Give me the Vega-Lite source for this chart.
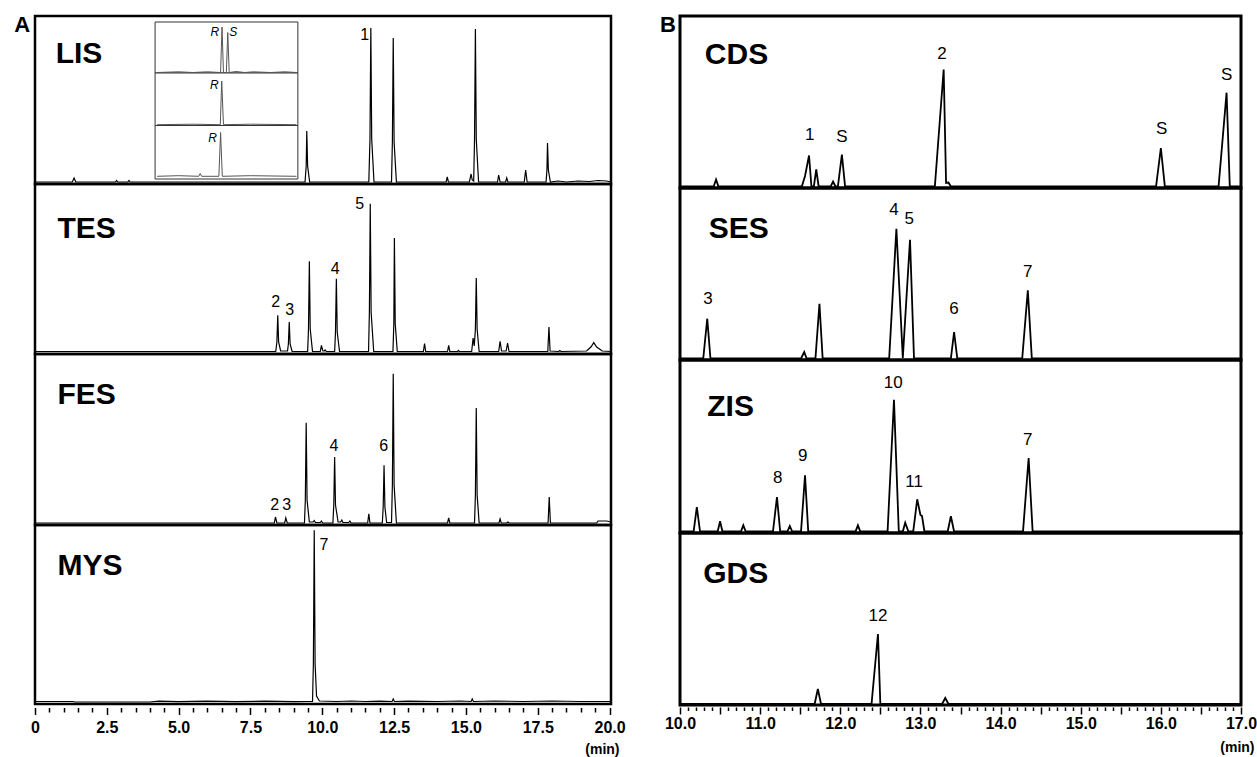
{
"$schema": "https://vega.github.io/schema/vega-lite/v6.json",
"background": "white",
"padding": {"left": 12, "top": 12, "right": 0, "bottom": 0},
"config": {"font": "Liberation Sans", "view": {"stroke": "black"}},
"datasets": {
"LIS": [{"t":0,"v":2},{"t":1.30,"v":2},{"t":1.36,"v":6},{"t":1.42,"v":2},{"t":2.80,"v":2},{"t":2.84,"v":3.5},{"t":2.88,"v":2},{"t":3.23,"v":2},{"t":3.27,"v":3.5},{"t":3.31,"v":2},{"t":9.40,"v":2},{"t":9.44,"v":18},{"t":9.46,"v":53},{"t":9.49,"v":18},{"t":9.56,"v":2},{"t":11.62,"v":2},{"t":11.66,"v":45},{"t":11.69,"v":156},{"t":11.72,"v":45},{"t":11.80,"v":2},{"t":12.41,"v":2},{"t":12.44,"v":42},{"t":12.47,"v":146},{"t":12.50,"v":42},{"t":12.58,"v":2},{"t":14.31,"v":2},{"t":14.35,"v":7},{"t":14.39,"v":2},{"t":15.12,"v":2},{"t":15.18,"v":10},{"t":15.22,"v":4},{"t":15.27,"v":3},{"t":15.30,"v":45},{"t":15.33,"v":155},{"t":15.36,"v":45},{"t":15.44,"v":2},{"t":16.10,"v":2},{"t":16.14,"v":9},{"t":16.19,"v":2},{"t":16.38,"v":2},{"t":16.42,"v":6},{"t":16.46,"v":2},{"t":17.03,"v":2},{"t":17.08,"v":14},{"t":17.13,"v":2},{"t":17.79,"v":2},{"t":17.82,"v":14},{"t":17.84,"v":41},{"t":17.87,"v":14},{"t":17.94,"v":2},{"t":18.2,"v":3},{"t":18.5,"v":2},{"t":18.9,"v":3},{"t":19.3,"v":2.5},{"t":19.6,"v":3.5},{"t":19.9,"v":3},{"t":20.05,"v":2}],
"LISin": [{"g":1,"t":4.25,"v":111.5},{"g":1,"t":5.0,"v":112.2},{"g":1,"t":5.5,"v":111.5},{"g":1,"t":6.0,"v":112.2},{"g":1,"t":6.46,"v":111.5},{"g":1,"t":6.51,"v":157},{"g":1,"t":6.56,"v":111.5},{"g":1,"t":6.66,"v":111.5},{"g":1,"t":6.71,"v":151.5},{"g":1,"t":6.76,"v":111.5},{"g":1,"t":7.0,"v":112.5},{"g":1,"t":7.3,"v":111.5},{"g":1,"t":7.6,"v":112.2},{"g":1,"t":8.2,"v":111.5},{"g":1,"t":8.7,"v":112.2},{"g":1,"t":9.1,"v":111.5},
{"g":2,"t":4.25,"v":59.3},{"g":2,"t":5.5,"v":59.8},{"g":2,"t":6.45,"v":59.3},{"g":2,"t":6.50,"v":103},{"g":2,"t":6.56,"v":59.3},{"g":2,"t":7.5,"v":59.8},{"g":2,"t":9.1,"v":59.3},
{"g":3,"t":4.25,"v":7.7},{"g":3,"t":5.0,"v":8.3},{"g":3,"t":5.7,"v":7.7},{"g":3,"t":5.75,"v":10.5},{"g":3,"t":5.8,"v":7.7},{"g":3,"t":6.40,"v":7.7},{"g":3,"t":6.46,"v":51.5},{"g":3,"t":6.52,"v":7.7},{"g":3,"t":7.5,"v":8.3},{"g":3,"t":9.1,"v":7.7}],
"box": [{"t":4.18,"t2":9.15,"v":111,"v2":162},{"t":4.18,"t2":9.15,"v":58.5,"v2":111},{"t":4.18,"t2":9.15,"v":5,"v2":58.5}],
"TES": [{"t":0,"v":2.5},{"t":1.3,"v":2.5},{"t":4,"v":2.5},{"t":8.38,"v":2.5},{"t":8.42,"v":12},{"t":8.45,"v":38.7},{"t":8.48,"v":12},{"t":8.55,"v":3},{"t":8.79,"v":3},{"t":8.82,"v":10},{"t":8.85,"v":32},{"t":8.88,"v":10},{"t":8.95,"v":2.5},{"t":9.49,"v":2.5},{"t":9.52,"v":25},{"t":9.55,"v":92.7},{"t":9.58,"v":25},{"t":9.66,"v":2.5},{"t":9.93,"v":2.5},{"t":9.97,"v":8.7},{"t":10.02,"v":3},{"t":10.07,"v":3},{"t":10.10,"v":4},{"t":10.14,"v":2.5},{"t":10.43,"v":2.5},{"t":10.46,"v":22},{"t":10.49,"v":75.3},{"t":10.52,"v":22},{"t":10.60,"v":2.5},{"t":11.61,"v":2.5},{"t":11.64,"v":42},{"t":11.67,"v":150.3},{"t":11.70,"v":42},{"t":11.79,"v":2.5},{"t":12.46,"v":2.5},{"t":12.49,"v":30},{"t":12.51,"v":116},{"t":12.54,"v":30},{"t":12.61,"v":2.5},{"t":13.52,"v":2.5},{"t":13.56,"v":10.3},{"t":13.60,"v":2.5},{"t":14.36,"v":2.5},{"t":14.40,"v":8.7},{"t":14.44,"v":2.5},{"t":14.71,"v":2.5},{"t":14.74,"v":3.5},{"t":14.77,"v":2.5},{"t":15.20,"v":2.5},{"t":15.25,"v":16},{"t":15.29,"v":8},{"t":15.33,"v":25},{"t":15.36,"v":76},{"t":15.39,"v":25},{"t":15.46,"v":2.5},{"t":16.14,"v":2.5},{"t":16.19,"v":12.7},{"t":16.24,"v":3},{"t":16.40,"v":3},{"t":16.45,"v":11},{"t":16.50,"v":2.5},{"t":17.85,"v":2.5},{"t":17.89,"v":27},{"t":17.93,"v":3},{"t":18.23,"v":2.5},{"t":18.27,"v":3.5},{"t":18.31,"v":2.5},{"t":19.2,"v":3},{"t":19.35,"v":7},{"t":19.45,"v":11.3},{"t":19.55,"v":7},{"t":19.75,"v":3},{"t":20.05,"v":2.5}],
"FES": [{"t":0,"v":2},{"t":8.33,"v":2},{"t":8.37,"v":8},{"t":8.42,"v":2},{"t":8.69,"v":2},{"t":8.73,"v":7},{"t":8.78,"v":2},{"t":9.38,"v":2},{"t":9.41,"v":25},{"t":9.44,"v":102.3},{"t":9.47,"v":25},{"t":9.55,"v":3},{"t":9.68,"v":3},{"t":9.72,"v":4.5},{"t":9.76,"v":2.5},{"t":9.93,"v":2.5},{"t":9.97,"v":4},{"t":10.01,"v":2},{"t":10.37,"v":2},{"t":10.40,"v":20},{"t":10.43,"v":68},{"t":10.46,"v":20},{"t":10.55,"v":3},{"t":10.64,"v":3},{"t":10.68,"v":5},{"t":10.72,"v":2.5},{"t":10.92,"v":2.5},{"t":10.96,"v":4},{"t":11.00,"v":2},{"t":11.58,"v":2},{"t":11.62,"v":11.3},{"t":11.66,"v":2},{"t":12.09,"v":2},{"t":12.12,"v":18},{"t":12.15,"v":59.7},{"t":12.18,"v":18},{"t":12.24,"v":2.5},{"t":12.41,"v":2.5},{"t":12.44,"v":40},{"t":12.47,"v":151.3},{"t":12.50,"v":40},{"t":12.58,"v":2},{"t":14.36,"v":2},{"t":14.40,"v":7},{"t":14.44,"v":2},{"t":15.30,"v":2},{"t":15.33,"v":30},{"t":15.36,"v":117},{"t":15.39,"v":30},{"t":15.46,"v":2},{"t":16.15,"v":2},{"t":16.19,"v":6},{"t":16.23,"v":2},{"t":16.42,"v":2},{"t":16.46,"v":3},{"t":16.50,"v":2},{"t":17.86,"v":2},{"t":17.90,"v":28},{"t":17.94,"v":2},{"t":19.55,"v":2},{"t":19.6,"v":4},{"t":19.9,"v":4},{"t":20.05,"v":3}],
"MYS": [{"t":0,"v":2.5},{"t":1.3,"v":2.5},{"t":1.4,"v":2},{"t":4.0,"v":2},{"t":4.3,"v":2.8},{"t":5,"v":2.3},{"t":6,"v":2.8},{"t":7,"v":2.3},{"t":8,"v":2.8},{"t":9.0,"v":2.3},{"t":9.5,"v":2.5},{"t":9.66,"v":2.5},{"t":9.69,"v":40},{"t":9.72,"v":173.7},{"t":9.75,"v":40},{"t":9.80,"v":8},{"t":9.90,"v":3},{"t":10.5,"v":2.5},{"t":11,"v":3},{"t":11.5,"v":2.5},{"t":12.0,"v":2.8},{"t":12.43,"v":2.5},{"t":12.47,"v":5},{"t":12.51,"v":2.5},{"t":13,"v":2.8},{"t":14,"v":2.5},{"t":14.8,"v":3},{"t":15.18,"v":2.5},{"t":15.22,"v":5},{"t":15.26,"v":2.5},{"t":16,"v":3},{"t":17,"v":2.5},{"t":18,"v":3},{"t":19,"v":2.5},{"t":20.05,"v":2.5}],
"CDS": [{"t":10.0,"v":1.5},{"t":10.42,"v":1.5},{"t":10.45,"v":8.5},{"t":10.48,"v":1.5},{"t":11.52,"v":1.5},{"t":11.56,"v":12},{"t":11.61,"v":32.5},{"t":11.64,"v":1.5},{"t":11.67,"v":1.5},{"t":11.70,"v":18.5},{"t":11.73,"v":1.5},{"t":11.88,"v":1.5},{"t":11.91,"v":6.5},{"t":11.94,"v":1.5},{"t":11.97,"v":1.5},{"t":12.02,"v":33.5},{"t":12.06,"v":1.5},{"t":13.18,"v":1.5},{"t":13.29,"v":118.5},{"t":13.32,"v":5},{"t":13.35,"v":5.5},{"t":13.38,"v":1.5},{"t":15.94,"v":1.5},{"t":16.00,"v":40},{"t":16.05,"v":1.5},{"t":16.72,"v":1.5},{"t":16.82,"v":95.3},{"t":16.86,"v":1.5},{"t":17.0,"v":1.5}],
"SES": [{"t":10.0,"v":1.5},{"t":10.29,"v":1.5},{"t":10.34,"v":41.3},{"t":10.38,"v":1.5},{"t":11.51,"v":1.5},{"t":11.55,"v":8},{"t":11.58,"v":1.5},{"t":11.69,"v":1.5},{"t":11.74,"v":56.3},{"t":11.78,"v":1.5},{"t":12.61,"v":1.5},{"t":12.70,"v":131.3},{"t":12.78,"v":2},{"t":12.87,"v":120.3},{"t":12.92,"v":1.5},{"t":13.38,"v":1.5},{"t":13.42,"v":28},{"t":13.46,"v":1.5},{"t":14.27,"v":1.5},{"t":14.34,"v":69.7},{"t":14.39,"v":1.5},{"t":17.0,"v":1.5}],
"ZIS": [{"t":10.0,"v":1.5},{"t":10.17,"v":1.5},{"t":10.21,"v":26},{"t":10.25,"v":1.5},{"t":10.47,"v":1.5},{"t":10.50,"v":11.7},{"t":10.53,"v":1.5},{"t":10.76,"v":1.5},{"t":10.79,"v":7.7},{"t":10.82,"v":1.5},{"t":11.16,"v":1.5},{"t":11.21,"v":36},{"t":11.25,"v":1.5},{"t":11.34,"v":1.5},{"t":11.37,"v":7},{"t":11.40,"v":1.5},{"t":11.51,"v":1.5},{"t":11.56,"v":57.7},{"t":11.60,"v":1.5},{"t":12.19,"v":1.5},{"t":12.22,"v":7.7},{"t":12.25,"v":1.5},{"t":12.59,"v":1.5},{"t":12.67,"v":133.3},{"t":12.73,"v":1.5},{"t":12.78,"v":1.5},{"t":12.81,"v":10.3},{"t":12.85,"v":1.5},{"t":12.91,"v":1.5},{"t":12.96,"v":33.7},{"t":13.00,"v":18},{"t":13.02,"v":17},{"t":13.05,"v":1.5},{"t":13.34,"v":1.5},{"t":13.38,"v":16.7},{"t":13.42,"v":1.5},{"t":14.28,"v":1.5},{"t":14.35,"v":75},{"t":14.40,"v":1.5},{"t":17.0,"v":1.5}],
"GDS": [{"t":10.0,"v":1},{"t":11.68,"v":1},{"t":11.72,"v":16},{"t":11.76,"v":1},{"t":12.39,"v":1},{"t":12.47,"v":71},{"t":12.50,"v":1},{"t":13.27,"v":1},{"t":13.31,"v":7},{"t":13.35,"v":1},{"t":17.0,"v":1}],
"lab": [
{"p":"LIS","k":"n","t":11.48,"v":149,"txt":"1"},
{"p":"LIS","k":"name","t":0.72,"v":130,"txt":"LIS"},
{"p":"LIS","k":"it","t":6.26,"v":152,"txt":"R"},
{"p":"LIS","k":"it","t":6.90,"v":152,"txt":"S"},
{"p":"LIS","k":"it","t":6.24,"v":99,"txt":"R"},
{"p":"LIS","k":"it","t":6.18,"v":46,"txt":"R"},
{"p":"LIS","k":"let","t":-0.45,"v":159,"txt":"A"},
{"p":"TES","k":"n","t":8.38,"v":52,"txt":"2"},
{"p":"TES","k":"n","t":8.87,"v":43.7,"txt":"3"},
{"p":"TES","k":"n","t":10.45,"v":84.7,"txt":"4"},
{"p":"TES","k":"n","t":11.30,"v":150.3,"txt":"5"},
{"p":"TES","k":"name","t":0.78,"v":125,"txt":"TES"},
{"p":"FES","k":"n","t":8.34,"v":19.7,"txt":"2"},
{"p":"FES","k":"n","t":8.76,"v":20,"txt":"3"},
{"p":"FES","k":"n","t":10.41,"v":78.7,"txt":"4"},
{"p":"FES","k":"n","t":12.14,"v":78.7,"txt":"6"},
{"p":"FES","k":"name","t":0.78,"v":130.5,"txt":"FES"},
{"p":"MYS","k":"n","t":10.06,"v":158.7,"txt":"7"},
{"p":"MYS","k":"name","t":0.78,"v":138,"txt":"MYS"},
{"p":"CDS","k":"n","t":11.62,"v":52.7,"txt":"1"},
{"p":"CDS","k":"n","t":12.02,"v":51,"txt":"S"},
{"p":"CDS","k":"n","t":13.27,"v":134.3,"txt":"2"},
{"p":"CDS","k":"n","t":16.01,"v":59.3,"txt":"S"},
{"p":"CDS","k":"n","t":16.82,"v":112.7,"txt":"S"},
{"p":"CDS","k":"name","t":10.31,"v":133,"txt":"CDS"},
{"p":"CDS","k":"let","t":9.85,"v":163,"txt":"B"},
{"p":"SES","k":"n","t":10.35,"v":60.7,"txt":"3"},
{"p":"SES","k":"n","t":12.67,"v":149.7,"txt":"4"},
{"p":"SES","k":"n","t":12.86,"v":141.3,"txt":"5"},
{"p":"SES","k":"n","t":13.42,"v":51.3,"txt":"6"},
{"p":"SES","k":"n","t":14.34,"v":88,"txt":"7"},
{"p":"SES","k":"name","t":10.36,"v":131.3,"txt":"SES"},
{"p":"ZIS","k":"n","t":11.22,"v":55,"txt":"8"},
{"p":"ZIS","k":"n","t":11.53,"v":76.7,"txt":"9"},
{"p":"ZIS","k":"n","t":12.66,"v":150,"txt":"10"},
{"p":"ZIS","k":"n","t":12.92,"v":51,"txt":"11"},
{"p":"ZIS","k":"n","t":14.34,"v":93.3,"txt":"7"},
{"p":"ZIS","k":"name","t":10.34,"v":126,"txt":"ZIS"},
{"p":"GDS","k":"n","t":12.47,"v":89,"txt":"12"},
{"p":"GDS","k":"name","t":10.29,"v":131,"txt":"GDS"}
]
},
"spacing": 31,
"hconcat": [
{"spacing": 0, "bounds": "flush", "vconcat": [
 {"width": 576, "height": 168, "view": {"stroke": "black", "strokeWidth": 2.5},
  "encoding": {"x": {"field": "t", "type": "quantitative", "scale": {"domain": [0, 20.05], "nice": false, "zero": false}, "axis": null},
               "y": {"field": "v", "type": "quantitative", "scale": {"domain": [0, 168], "nice": false, "zero": false}, "axis": null}},
  "layer": [
   {"data": {"name": "LIS"}, "mark": {"type": "line", "color": "black", "strokeWidth": 1.2}, "encoding": {}},
   {"data": {"name": "box"}, "mark": {"type": "rect", "fill": "white", "stroke": "#333333", "strokeWidth": 1}, "encoding": {"x2": {"field": "t2"}, "y2": {"field": "v2"}}},
   {"data": {"name": "LISin"}, "mark": {"type": "line", "color": "#555555", "strokeWidth": 1}, "encoding": {"detail": {"field": "g", "type": "nominal"}}},
   {"data": {"name": "lab"}, "transform": [{"filter": "datum.p === 'LIS' && datum.k === 'it'"}], "mark": {"type": "text", "fontSize": 12, "fontStyle": "italic", "color": "black", "baseline": "middle"}, "encoding": {"text": {"field": "txt", "type": "nominal"}}},
   {"data": {"name": "lab"}, "transform": [{"filter": "datum.p === 'LIS' && datum.k === 'n'"}], "mark": {"type": "text", "fontSize": 16, "color": "black", "baseline": "middle"}, "encoding": {"text": {"field": "txt", "type": "nominal"}}},
   {"data": {"name": "lab"}, "transform": [{"filter": "datum.p === 'LIS' && datum.k === 'name'"}], "mark": {"type": "text", "fontSize": 30, "fontWeight": "bold", "align": "left", "baseline": "middle", "color": "black"}, "encoding": {"text": {"field": "txt", "type": "nominal"}}},
   {"data": {"name": "lab"}, "transform": [{"filter": "datum.p === 'LIS' && datum.k === 'let'"}], "mark": {"type": "text", "fontSize": 22, "fontWeight": "bold", "baseline": "middle", "color": "black"}, "encoding": {"text": {"field": "txt", "type": "nominal"}}}
  ]},
 {"width": 576, "height": 170, "view": {"stroke": "black", "strokeWidth": 2.5},
  "encoding": {"x": {"field": "t", "type": "quantitative", "scale": {"domain": [0, 20.05], "nice": false, "zero": false}, "axis": null},
               "y": {"field": "v", "type": "quantitative", "scale": {"domain": [0, 170], "nice": false, "zero": false}, "axis": null}},
  "layer": [
   {"data": {"name": "TES"}, "mark": {"type": "line", "color": "black", "strokeWidth": 1.2}, "encoding": {}},
   {"data": {"name": "lab"}, "transform": [{"filter": "datum.p === 'TES' && datum.k === 'n'"}], "mark": {"type": "text", "fontSize": 16, "color": "black", "baseline": "middle"}, "encoding": {"text": {"field": "txt", "type": "nominal"}}},
   {"data": {"name": "lab"}, "transform": [{"filter": "datum.p === 'TES' && datum.k === 'name'"}], "mark": {"type": "text", "fontSize": 30, "fontWeight": "bold", "align": "left", "baseline": "middle", "color": "black"}, "encoding": {"text": {"field": "txt", "type": "nominal"}}}
  ]},
 {"width": 576, "height": 171, "view": {"stroke": "black", "strokeWidth": 2.5},
  "encoding": {"x": {"field": "t", "type": "quantitative", "scale": {"domain": [0, 20.05], "nice": false, "zero": false}, "axis": null},
               "y": {"field": "v", "type": "quantitative", "scale": {"domain": [0, 171], "nice": false, "zero": false}, "axis": null}},
  "layer": [
   {"data": {"name": "FES"}, "mark": {"type": "line", "color": "black", "strokeWidth": 1.2}, "encoding": {}},
   {"data": {"name": "lab"}, "transform": [{"filter": "datum.p === 'FES' && datum.k === 'n'"}], "mark": {"type": "text", "fontSize": 16, "color": "black", "baseline": "middle"}, "encoding": {"text": {"field": "txt", "type": "nominal"}}},
   {"data": {"name": "lab"}, "transform": [{"filter": "datum.p === 'FES' && datum.k === 'name'"}], "mark": {"type": "text", "fontSize": 30, "fontWeight": "bold", "align": "left", "baseline": "middle", "color": "black"}, "encoding": {"text": {"field": "txt", "type": "nominal"}}}
  ]},
 {"width": 576, "height": 179, "view": {"stroke": "black", "strokeWidth": 2.5},
  "encoding": {"x": {"field": "t", "type": "quantitative", "scale": {"domain": [0, 20.05], "nice": false, "zero": false},
                     "axis": {"values": [0,0.5,1,1.5,2,2.5,3,3.5,4,4.5,5,5.5,6,6.5,7,7.5,8,8.5,9,9.5,10,10.5,11,11.5,12,12.5,13,13.5,14,14.5,15,15.5,16,16.5,17,17.5,18,18.5,19,19.5,20],
                              "domain": false, "grid": false, "offset": 3.5, "tickColor": "black", "tickWidth": 1.5,
                              "tickSize": {"condition": {"test": "abs(datum.value/2.5 - round(datum.value/2.5)) < 0.01", "value": 7}, "value": 4.5},
                              "labelExpr": "abs(datum.value/2.5 - round(datum.value/2.5)) < 0.01 ? (datum.value == 0 ? '0' : format(datum.value, '.1f')) : ''",
                              "labelFontSize": 16, "labelFontWeight": "bold", "labelColor": "black", "labelPadding": 5, "labelOverlap": false, "labelFlush": false, "labelBound": false,
                              "title": "(min)", "titleFontSize": 14, "titleFontWeight": "bold", "titleColor": "black", "titleAnchor": "end", "titleAlign": "right", "titleBaseline": "middle", "titleX": 584, "titleY": 42}},
               "y": {"field": "v", "type": "quantitative", "scale": {"domain": [0, 179], "nice": false, "zero": false}, "axis": null}},
  "layer": [
   {"data": {"name": "MYS"}, "mark": {"type": "line", "color": "black", "strokeWidth": 1.2}, "encoding": {}},
   {"data": {"name": "lab"}, "transform": [{"filter": "datum.p === 'MYS' && datum.k === 'n'"}], "mark": {"type": "text", "fontSize": 16, "color": "black", "baseline": "middle"}, "encoding": {"text": {"field": "txt", "type": "nominal"}}},
   {"data": {"name": "lab"}, "transform": [{"filter": "datum.p === 'MYS' && datum.k === 'name'"}], "mark": {"type": "text", "fontSize": 30, "fontWeight": "bold", "align": "left", "baseline": "middle", "color": "black"}, "encoding": {"text": {"field": "txt", "type": "nominal"}}}
  ]}
]},
{"spacing": 0, "bounds": "flush", "vconcat": [
 {"width": 561, "height": 172, "view": {"stroke": "black", "strokeWidth": 3},
  "encoding": {"x": {"field": "t", "type": "quantitative", "scale": {"domain": [10, 17], "nice": false, "zero": false}, "axis": null},
               "y": {"field": "v", "type": "quantitative", "scale": {"domain": [0, 172], "nice": false, "zero": false}, "axis": null}},
  "layer": [
   {"data": {"name": "CDS"}, "mark": {"type": "line", "color": "black", "strokeWidth": 1.8}, "encoding": {}},
   {"data": {"name": "lab"}, "transform": [{"filter": "datum.p === 'CDS' && datum.k === 'n'"}], "mark": {"type": "text", "fontSize": 17, "color": "black", "baseline": "middle"}, "encoding": {"text": {"field": "txt", "type": "nominal"}}},
   {"data": {"name": "lab"}, "transform": [{"filter": "datum.p === 'CDS' && datum.k === 'name'"}], "mark": {"type": "text", "fontSize": 30, "fontWeight": "bold", "align": "left", "baseline": "middle", "color": "black"}, "encoding": {"text": {"field": "txt", "type": "nominal"}}},
   {"data": {"name": "lab"}, "transform": [{"filter": "datum.p === 'CDS' && datum.k === 'let'"}], "mark": {"type": "text", "fontSize": 22, "fontWeight": "bold", "baseline": "middle", "color": "black"}, "encoding": {"text": {"field": "txt", "type": "nominal"}}}
  ]},
 {"width": 561, "height": 172, "view": {"stroke": "black", "strokeWidth": 3},
  "encoding": {"x": {"field": "t", "type": "quantitative", "scale": {"domain": [10, 17], "nice": false, "zero": false}, "axis": null},
               "y": {"field": "v", "type": "quantitative", "scale": {"domain": [0, 172], "nice": false, "zero": false}, "axis": null}},
  "layer": [
   {"data": {"name": "SES"}, "mark": {"type": "line", "color": "black", "strokeWidth": 1.8}, "encoding": {}},
   {"data": {"name": "lab"}, "transform": [{"filter": "datum.p === 'SES' && datum.k === 'n'"}], "mark": {"type": "text", "fontSize": 17, "color": "black", "baseline": "middle"}, "encoding": {"text": {"field": "txt", "type": "nominal"}}},
   {"data": {"name": "lab"}, "transform": [{"filter": "datum.p === 'SES' && datum.k === 'name'"}], "mark": {"type": "text", "fontSize": 30, "fontWeight": "bold", "align": "left", "baseline": "middle", "color": "black"}, "encoding": {"text": {"field": "txt", "type": "nominal"}}}
  ]},
 {"width": 561, "height": 173, "view": {"stroke": "black", "strokeWidth": 3},
  "encoding": {"x": {"field": "t", "type": "quantitative", "scale": {"domain": [10, 17], "nice": false, "zero": false}, "axis": null},
               "y": {"field": "v", "type": "quantitative", "scale": {"domain": [0, 173], "nice": false, "zero": false}, "axis": null}},
  "layer": [
   {"data": {"name": "ZIS"}, "mark": {"type": "line", "color": "black", "strokeWidth": 1.8}, "encoding": {}},
   {"data": {"name": "lab"}, "transform": [{"filter": "datum.p === 'ZIS' && datum.k === 'n'"}], "mark": {"type": "text", "fontSize": 17, "color": "black", "baseline": "middle"}, "encoding": {"text": {"field": "txt", "type": "nominal"}}},
   {"data": {"name": "lab"}, "transform": [{"filter": "datum.p === 'ZIS' && datum.k === 'name'"}], "mark": {"type": "text", "fontSize": 30, "fontWeight": "bold", "align": "left", "baseline": "middle", "color": "black"}, "encoding": {"text": {"field": "txt", "type": "nominal"}}}
  ]},
 {"width": 561, "height": 172, "view": {"stroke": "black", "strokeWidth": 3},
  "encoding": {"x": {"field": "t", "type": "quantitative", "scale": {"domain": [10, 17], "nice": false, "zero": false},
                     "axis": {"values": [10,10.1,10.2,10.3,10.4,10.5,10.6,10.7,10.8,10.9,11,11.1,11.2,11.3,11.4,11.5,11.6,11.7,11.8,11.9,12,12.1,12.2,12.3,12.4,12.5,12.6,12.7,12.8,12.9,13,13.1,13.2,13.3,13.4,13.5,13.6,13.7,13.8,13.9,14,14.1,14.2,14.3,14.4,14.5,14.6,14.7,14.8,14.9,15,15.1,15.2,15.3,15.4,15.5,15.6,15.7,15.8,15.9,16,16.1,16.2,16.3,16.4,16.5,16.6,16.7,16.8,16.9,17],
                              "domain": false, "grid": false, "offset": 2, "tickColor": "black", "tickWidth": 1.5,
                              "tickSize": {"condition": {"test": "abs(datum.value*2 - round(datum.value*2)) < 0.01", "value": 7}, "value": 3.5},
                              "labelExpr": "abs(datum.value - round(datum.value)) < 0.01 ? format(datum.value, '.1f') : ''",
                              "labelFontSize": 16, "labelFontWeight": "bold", "labelColor": "black", "labelPadding": 1, "labelOverlap": false, "labelFlush": false, "labelBound": false,
                              "title": "(min)", "titleFontSize": 14, "titleFontWeight": "bold", "titleColor": "black", "titleAnchor": "end", "titleAlign": "right", "titleBaseline": "middle", "titleX": 574, "titleY": 40}},
               "y": {"field": "v", "type": "quantitative", "scale": {"domain": [0, 172], "nice": false, "zero": false}, "axis": null}},
  "layer": [
   {"data": {"name": "GDS"}, "mark": {"type": "line", "color": "black", "strokeWidth": 1.8}, "encoding": {}},
   {"data": {"name": "lab"}, "transform": [{"filter": "datum.p === 'GDS' && datum.k === 'n'"}], "mark": {"type": "text", "fontSize": 17, "color": "black", "baseline": "middle"}, "encoding": {"text": {"field": "txt", "type": "nominal"}}},
   {"data": {"name": "lab"}, "transform": [{"filter": "datum.p === 'GDS' && datum.k === 'name'"}], "mark": {"type": "text", "fontSize": 30, "fontWeight": "bold", "align": "left", "baseline": "middle", "color": "black"}, "encoding": {"text": {"field": "txt", "type": "nominal"}}}
  ]}
]}
]
}
